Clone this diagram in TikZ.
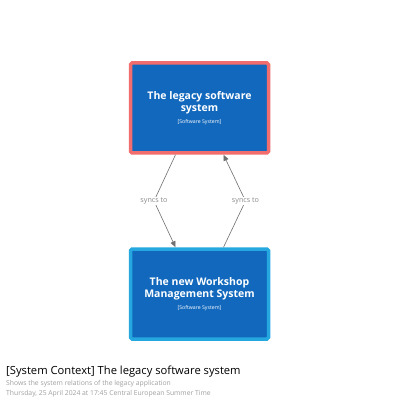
\documentclass[tikz,border=0pt]{standalone}
\usepackage{fontspec}
\setmainfont{Open Sans}
\usetikzlibrary{arrows.meta}
\definecolor{boxfill}{HTML}{1168BD}
\definecolor{legacyborder}{HTML}{F26D6D}
\definecolor{newborder}{HTML}{25A8E0}
\definecolor{linegray}{HTML}{707070}
\definecolor{labelgray}{HTML}{8A8A8A}
\definecolor{subgray}{HTML}{A0A0A0}
\newcommand{\sysmeta}{\fontsize{5.2}{6}\selectfont\mdseries}
\tikzset{
  sysbox/.style={draw, line width=3.5pt, fill=boxfill, rounded corners=1.5pt, minimum width=138pt, minimum height=90pt, inner sep=0pt, text=white, align=center, font=\fontsize{10.5}{12.5}\selectfont\bfseries},
  rel/.style={draw=linegray, line width=0.6pt, -{Triangle[length=6pt,width=5pt]}},
  rellabel/.style={text=labelgray, font=\fontsize{7.2}{8}\selectfont, fill=white, inner sep=1pt}
}
\begin{document}
\begin{tikzpicture}[x=1pt,y=-1pt]
\useasboundingbox[fill=white] (0,0) rectangle (400,403);
\node[sysbox, draw=legacyborder] (legacy) at (199.5,108) {The legacy software\\system\\[-1pt]\sysmeta [Software System]};
\node[sysbox, draw=newborder] (new) at (199.5,294) {The new Workshop\\Management System\\[-1pt]\sysmeta [Software System]};
\coordinate (lt) at ([xshift=-24pt]legacy.south);
\coordinate (rt) at ([xshift=24pt]legacy.south);
\coordinate (lb) at ([xshift=-24pt]new.north);
\coordinate (rb) at ([xshift=24pt]new.north);
\node[rellabel] (l1) at (154,201) {syncs to};
\node[rellabel] (l2) at (245.5,201) {syncs to};
\draw[rel] (lt) -- (l1.center) -- (lb);
\draw[rel] (rb) -- (l2.center) -- (rt);
\node[rellabel] at (154,201) {syncs to};
\node[rellabel] at (245.5,201) {syncs to};
\node[anchor=base west, inner sep=0pt, font=\fontsize{11.2}{13}\selectfont] (title) at (6,374) {[System Context] The legacy software system};
\node[anchor=base west, inner sep=0pt, text=subgray, font=\fontsize{6.8}{8}\selectfont] (sub1) at (6,385) {Shows the system relations of the legacy application};
\node[anchor=base west, inner sep=0pt, text=subgray, font=\fontsize{6.8}{8}\selectfont] (sub2) at (6,395) {Thursday, 25 April 2024 at 17:45 Central European Summer Time};
\end{tikzpicture}
\end{document}
